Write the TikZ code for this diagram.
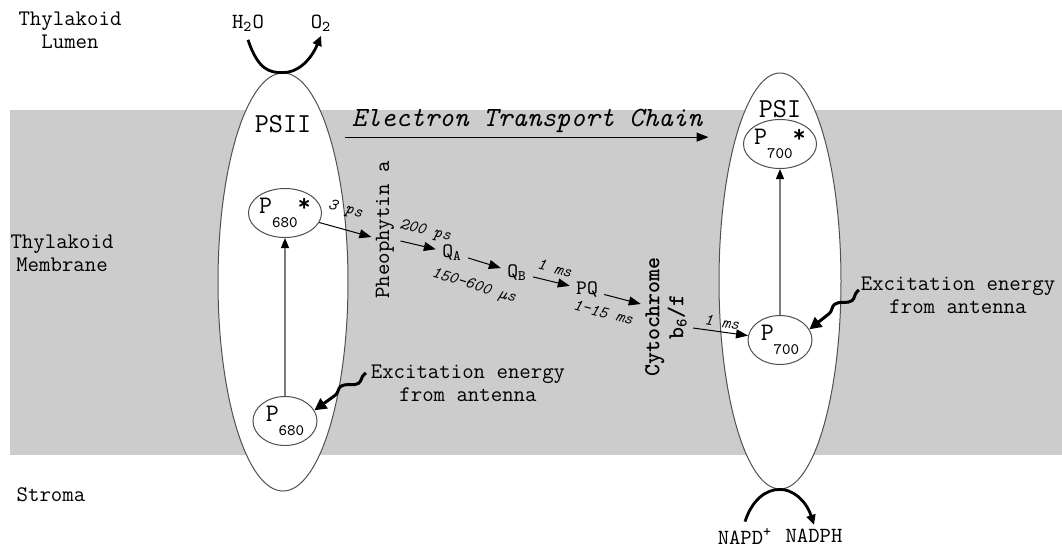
\documentclass[tikz,border=0pt]{standalone}
\renewcommand{\familydefault}{\ttdefault}
\usetikzlibrary{arrows.meta, calc, shapes.geometric, decorations.pathmorphing}
\definecolor{membranegray}{RGB}{204,204,204}
\definecolor{outlinegray}{RGB}{80,80,80}
\definecolor{stemgray}{RGB}{125,125,125}
\newcommand{\sz}[1]{\fontsize{#1}{#1}\selectfont}
% pigment label: P with a lowered number and an optional star
\newcommand{\pigm}[2]{P\raisebox{-7pt}{\sz{8}#1}#2}

\begin{document}
\begin{tikzpicture}[
    x=0.5pt, y=-0.5pt,
    sidelabel/.style={align=center, font=\fontsize{11.1}{11.5}\selectfont},
    photosys/.style={ellipse, draw=outlinegray, fill=white, line width=0.5pt, inner sep=0pt},
    pigment/.style={ellipse, draw=outlinegray, fill=white, line width=0.5pt, inner sep=0pt,
      minimum width=32pt, minimum height=24.5pt, font=\sz{12.6}},
    carrier/.style={inner sep=3pt, font=\sz{10.3}},
    chem/.style={inner sep=1pt, font=\sz{10.8}},
    etarrow/.style={-{Triangle[length=6pt,width=4.5pt]}, line width=0.5pt},
    rate/.style={font=\sz{8.3}\itshape, sloped, inner sep=1pt},
    stem/.style={draw=stemgray, line width=0.6pt, -{Triangle[length=5pt,width=4pt,black]}},
    excite/.style={line width=1.5pt, -{Triangle[length=6pt,width=6pt]}, decorate,
      decoration={snake, amplitude=2pt, segment length=16pt, pre length=1pt, post length=7pt}},
    fluxarc/.style={line width=1.4pt, -{Triangle[length=5pt,width=4.5pt]}}
  ]
  \useasboundingbox (0,0) rectangle (1062,548);

  % membrane band
  \fill[membranegray] (10,110) rectangle (1062,455);

  % photosystems
  \node[photosys, minimum width=65pt, minimum height=209pt] (psii) at (283,282) {};
  \node[photosys, minimum width=61pt, minimum height=208pt] (psi) at (780,281) {};
  \node[font=\sz{13.7}] (psiilbl) at (283,124) {PSII};
  \node[font=\sz{13.7}] (psilbl) at (780,109) {PSI};

  % side labels
  \node[sidelabel] (lumen) at (70,30) {Thylakoid\\Lumen};
  \node[sidelabel] (membrane) at (62,253) {Thylakoid\\Membrane};
  \node[sidelabel] (stroma) at (51,495) {Stroma};

  % electron transport chain heading
  \node[font=\itshape\sz{13.9}, inner sep=1pt] (etc) at (527,121) {Electron Transport Chain};
  \draw[-{Triangle[length=6pt,width=4.5pt]}, line width=0.6pt]
    ($(etc.south west)+(-4,2)$) -- ($(etc.south east)+(4,2)$);

  % pigments
  \node[pigment] (p680s) at (285,213) {\pigm{680}{\raisebox{1pt}{\bfseries*}}};
  \node[pigment] (p680) at (285,421) {\pigm{680}{}};
  \node[pigment] (p700s) at (780,144) {\pigm{700}{\raisebox{1pt}{\bfseries*}}};
  \node[pigment] (p700) at (780,340) {\pigm{700}{}};
  \draw[stem] (p680) -- (p680s);
  \draw[stem] (p700) -- (p700s);

  % carriers
  \node[carrier, inner sep=1pt, rotate=90, font=\sz{10.9}] (pheo) at (385,230) {Pheophytin a};
  \node[carrier] (qa) at (452,253) {Q\textsubscript{A}};
  \node[carrier] (qb) at (517,273) {Q\textsubscript{B}};
  \node[carrier] (pq) at (587,290) {PQ};
  \node[carrier, inner sep=1pt, rotate=90, align=center,
    font=\bfseries\fontsize{11.4}{12}\selectfont] (cyt)
    at (666,317) {Cytochrome\\b\textsubscript{6}/f};

  \draw[etarrow] (p680s) -- ($(pheo.north)+(-2,7)$) node[rate, pos=0.4, above=5pt] {3 ps};
  \draw[etarrow] ($(pheo.south)+(4,11)$) -- (qa) node[rate, pos=0.6, above=3pt] {200 ps};
  \draw[etarrow] (qa) -- (qb) node[rate, pos=0.4, below=8pt] {150-600 µs};
  \draw[etarrow] (qb) -- (pq) node[rate, midway, above=3pt] {1 ms};
  \draw[etarrow] (pq) -- ($(cyt.north)+(-2,-13)$) node[rate, pos=0.1, below=5pt] {1-15 ms};
  \draw[etarrow] ($(cyt.south)+(4,11)$) -- (p700) node[rate, midway, above=1pt] {1 ms};

  % excitation from antenna
  \node[sidelabel] (exc680) at (468,383) {Excitation energy\\from antenna};
  \node[sidelabel] (exc700) at (958,295) {Excitation energy\\from antenna};
  \coordinate (w680) at (366,373);
  \coordinate (w700) at (859,290);
  \draw[excite] (w680) -- (p680.20);
  \draw[excite] (w700) -- (p700.20);

  % water splitting and NADPH
  \node[chem] (h2o) at (248,23) {H\textsubscript{2}O};
  \node[chem] (o2) at (321,23) {O\textsubscript{2}};
  \node[chem] (nadp) at (745,536) {NAPD\textsuperscript{+}};
  \node[chem] (nadph) at (814,536) {NADPH};
  \draw[fluxarc] ([yshift=-3pt]h2o.south) .. controls (258,70) and (270,73) .. (psii.north)
    .. controls (296,73) and (310,62) .. ([yshift=-1pt]o2.south);
  \draw[fluxarc] ([yshift=2pt]nadp.north) .. controls (752,500) and (766,489) .. (psi.south)
    .. controls (792,489) and (806,500) .. ([yshift=1pt]nadph.north);
\end{tikzpicture}
\end{document}
